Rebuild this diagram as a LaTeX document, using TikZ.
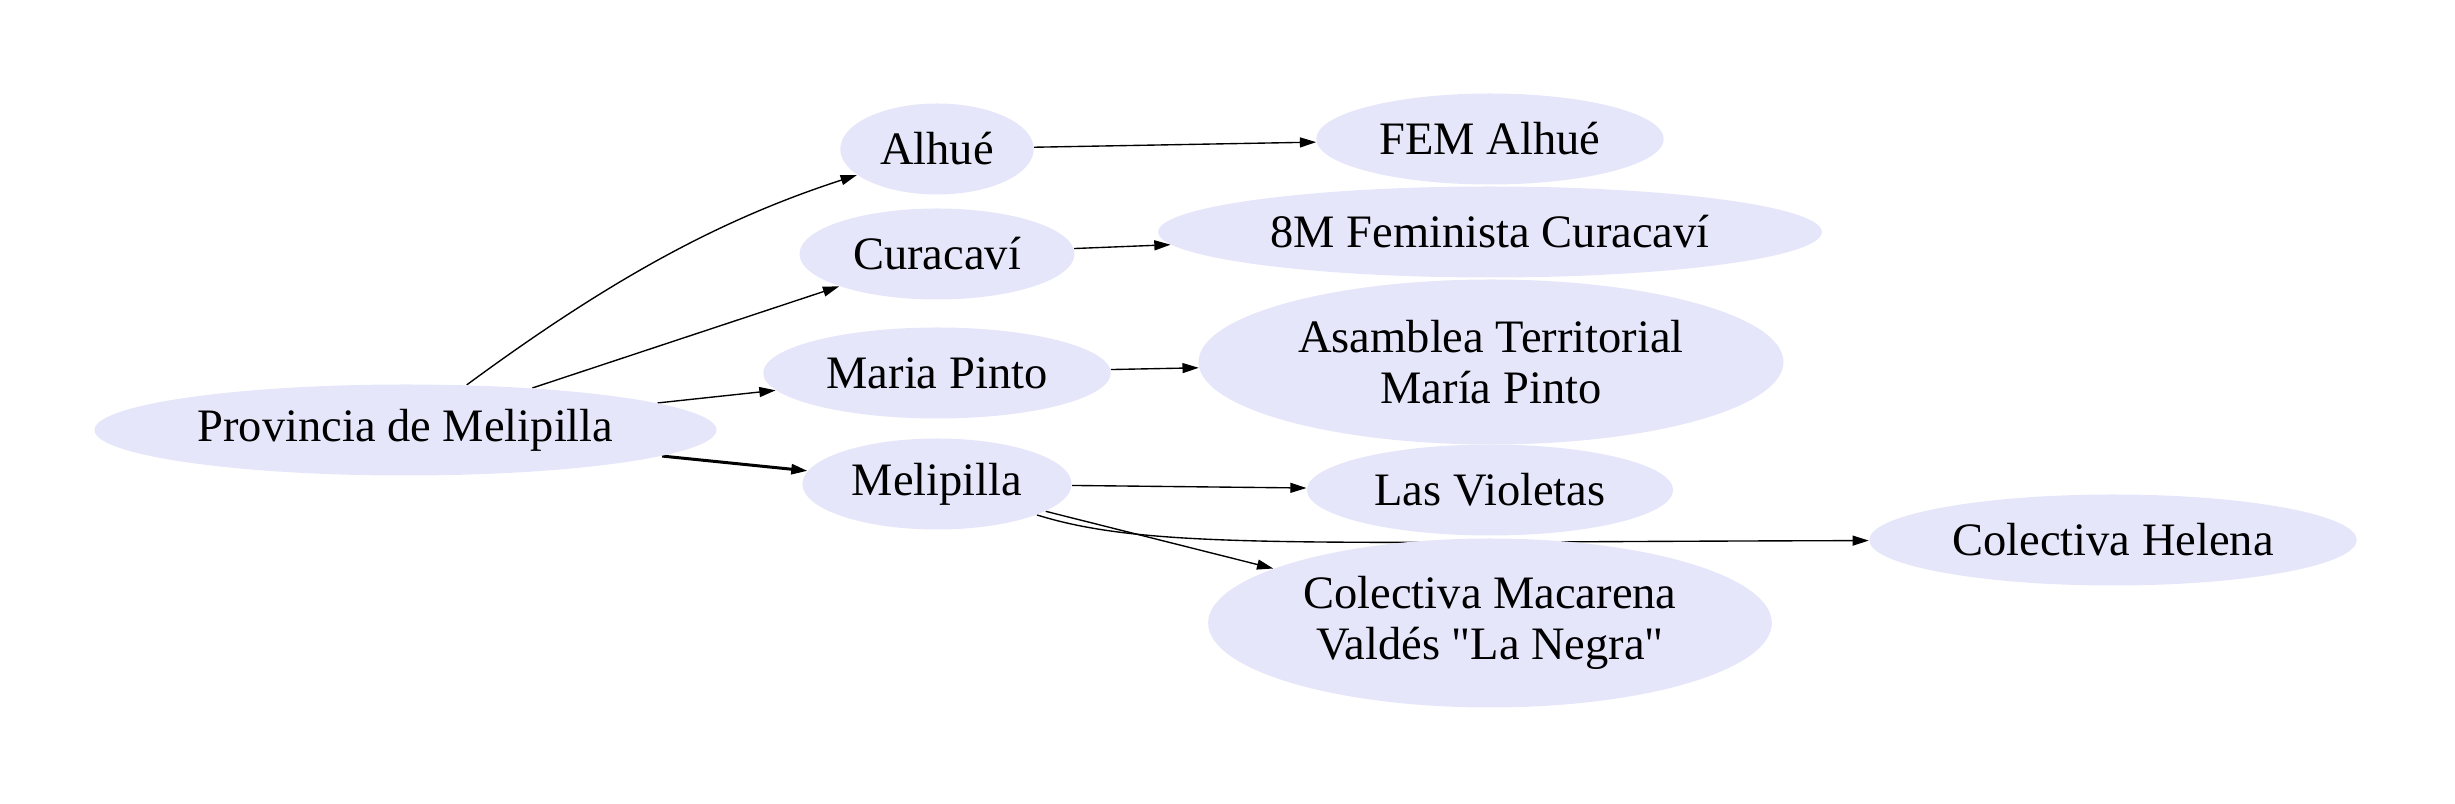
\documentclass[tikz,border=0pt]{standalone}
\usepackage{fontspec}
\setmainfont[Ligatures=TeXOff]{Liberation Serif}
\usepackage{tikz}
\usetikzlibrary{arrows.meta,shapes.geometric,backgrounds}
\definecolor{lavendernode}{HTML}{E6E6FA}
\tikzset{
  orgnode/.style={
    ellipse, fill=lavendernode, inner sep=0pt,
    minimum height=36.4pt, align=center,
    font=\fontsize{18.6}{20.7}\selectfont
  },
  orgarrow/.style={-{Triangle[length=6.5pt,width=4pt]}, line width=0.55pt}
}

\begin{document}
\begin{tikzpicture}[x=0.4pt, y=-0.4pt]
\useasboundingbox (0,0) rectangle (2455,804);

% Province
\node[orgnode, minimum width=248.8pt] (prov) at (405.5,430) {Provincia de Melipilla};

% Communes
\node[orgnode, minimum width=77.4pt] (alhue) at (937,149) {Alhué};
\node[orgnode, minimum width=110pt] (curacavi) at (937,254) {Curacaví};
\node[orgnode, minimum width=139pt] (mpinto) at (937,373) {Maria Pinto};
\node[orgnode, minimum width=107.7pt] (melipilla) at (937,484) {Melipilla};

% Organisations
\node[orgnode, minimum width=139pt] (fem) at (1490,139) {FEM Alhué};
\node[orgnode, minimum width=265.5pt] (ochom) at (1490,232) {8M Feminista Curacaví};
\node[orgnode, minimum width=234pt, minimum height=66pt] (asamblea) at (1491,362) {Asamblea Territorial\\María Pinto};
\node[orgnode, minimum width=146.5pt] (violetas) at (1490,490) {Las Violetas};
\node[orgnode, minimum width=225.5pt, minimum height=67.6pt] (macarena) at (1490,623) {Colectiva Macarena\\Valdés "La Negra"};
\node[orgnode, minimum width=195pt] (helena) at (2113,540) {Colectiva Helena};

% Arrows
\begin{scope}[on background layer]
\draw[orgarrow] (prov) .. controls (620,272) and (728,217) .. (alhue);
\draw[orgarrow] (prov) -- (curacavi);
\draw[orgarrow] (prov) -- (mpinto);
\draw[orgarrow, line width=1.2pt] (prov) -- (melipilla);
\draw[orgarrow] (alhue) -- (fem);
\draw[orgarrow] (curacavi) -- (ochom);
\draw[orgarrow] (mpinto) -- (asamblea);
\draw[orgarrow] (melipilla) -- (violetas);
\draw[orgarrow] (melipilla) -- (macarena);
\draw[orgarrow] (melipilla) .. controls (1150,550) and (1300,542) .. (helena);
\end{scope}
\end{tikzpicture}
\end{document}
